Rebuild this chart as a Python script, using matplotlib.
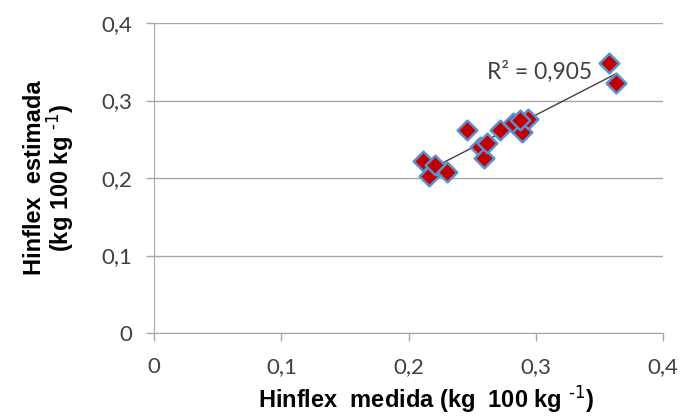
import numpy as np
import matplotlib
matplotlib.use("Agg")
import matplotlib.pyplot as plt

#---data
medida = [0.211, 0.216, 0.221, 0.230, 0.246, 0.256, 0.259, 0.262,
          0.272, 0.282, 0.289, 0.294, 0.288, 0.358, 0.363]
estimada = [0.222, 0.203, 0.217, 0.208, 0.262, 0.240, 0.226, 0.245,
            0.262, 0.271, 0.259, 0.276, 0.275, 0.348, 0.323]
r2_label = "R\u00b2 = 0,905"
ticks = [0, 0.1, 0.2, 0.3, 0.4]
tick_labels = ["0", "0,1", "0,2", "0,3", "0,4"]

plt.rcParams['font.family'] = ['Lato', 'DejaVu Sans']
plt.rcParams['mathtext.default'] = 'regular'

fig = plt.figure(figsize=(6.82, 4.19), dpi=100)
ax = fig.add_axes([0.226, 0.205, 0.746, 0.740])

x = np.array(medida)
y = np.array(estimada)

#---linear trend line
m, b = np.polyfit(x, y, 1)
xl = np.array([x.min(), x.max()])
ax.plot(xl, m * xl + b, color='#404040', lw=1.0, zorder=2)

ax.scatter(x, y, marker='D', s=100, facecolor='#C00000',
           edgecolor='#5B8FD0', linewidth=1.8, zorder=3)

ax.text(0.344, 0.337, r2_label, ha='right', va='center', fontsize=16.5,
        color='#404040')

ax.set_xlim(0, 0.4)
ax.set_ylim(0, 0.4)
ax.set_xticks(ticks)
ax.set_xticklabels(tick_labels)
ax.set_yticks(ticks)
ax.set_yticklabels(tick_labels)
ax.yaxis.grid(True, color='#A6A6A6', lw=1.0)
ax.set_axisbelow(True)
for s in ['top', 'right']:
    ax.spines[s].set_visible(False)
for s in ['left', 'bottom']:
    ax.spines[s].set_color('#A6A6A6')
ax.tick_params(colors='#A6A6A6', labelcolor='#404040', labelsize=16,
               length=6, width=1.0)
ax.tick_params(axis='x', pad=11)
ax.tick_params(axis='y', pad=10)

ax.set_xlabel(r"Hinflex  medida (kg  100 kg $^{\text{-1}}$)", fontsize=17,
              fontweight='bold', family='Liberation Sans')
ax.xaxis.set_label_coords(0.534, -0.163)
ax.set_ylabel("Hinflex  estimada\n" + r"(kg 100 kg $^{\text{-1}}$)", fontsize=17,
              fontweight='bold', family='Liberation Sans', labelpad=18,
              linespacing=0.95)

fig.savefig("out.png", dpi=100)
